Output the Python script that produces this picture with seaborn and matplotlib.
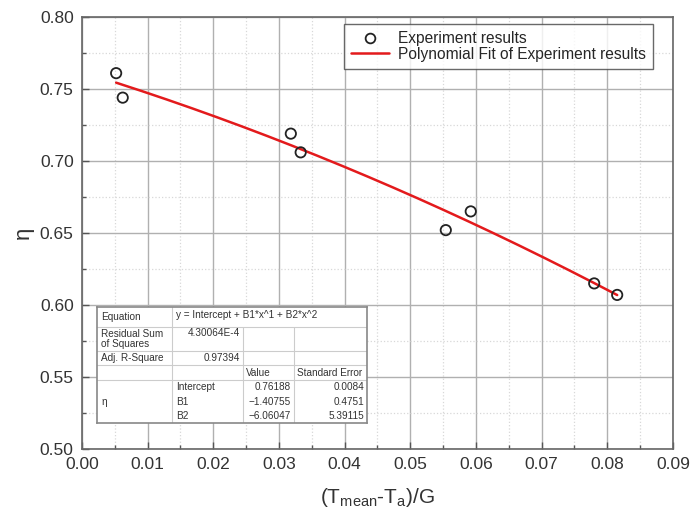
import numpy as np
import pandas as pd
import matplotlib
matplotlib.use("Agg")
import matplotlib.pyplot as plt
import seaborn as sns
from matplotlib.ticker import MultipleLocator, FormatStrFormatter
from matplotlib.lines import Line2D

sns.set_style("white")
plt.rcParams['font.family'] = ['Liberation Sans', 'DejaVu Sans']
plt.rcParams['mathtext.fontset'] = 'custom'
plt.rcParams['mathtext.rm'] = 'Liberation Sans'
plt.rcParams['mathtext.it'] = 'Liberation Sans'

# data
x_exp = [0.0052, 0.0062, 0.0318, 0.0333, 0.0554, 0.0592, 0.0780, 0.0815]
eta_exp = [0.761, 0.744, 0.719, 0.706, 0.652, 0.665, 0.615, 0.607]
coef_intercept = 0.76188
coef_b1 = -1.40755
coef_b2 = -6.06047

df = pd.DataFrame({"x": x_exp, "eta": eta_exp})
xf = np.linspace(min(x_exp), max(x_exp), 200)
fit_df = pd.DataFrame({"x": xf, "eta": coef_intercept + coef_b1 * xf + coef_b2 * xf ** 2})

fig = plt.figure(figsize=(6.92, 5.18), dpi=100)
ax = fig.add_axes([82/692, 1 - 449/518, (673-82)/692, (449-17)/518])

sns.lineplot(data=fit_df, x="x", y="eta", ax=ax, color="#e31a1c", lw=1.8, zorder=3)
sns.scatterplot(data=df, x="x", y="eta", ax=ax, marker="o", s=55, facecolor="none",
                edgecolor="#222222", linewidth=1.3, zorder=4)

ax.set_xlim(0, 0.09)
ax.set_ylim(0.50, 0.80)
ax.xaxis.set_major_locator(MultipleLocator(0.01))
ax.xaxis.set_minor_locator(MultipleLocator(0.005))
ax.yaxis.set_major_locator(MultipleLocator(0.05))
ax.yaxis.set_minor_locator(MultipleLocator(0.025))
ax.xaxis.set_major_formatter(FormatStrFormatter('%.2f'))
ax.yaxis.set_major_formatter(FormatStrFormatter('%.2f'))
ax.grid(which='major', color='#b0b0b0', lw=1.0, ls='-')
ax.grid(which='minor', color='#d8d8d8', lw=0.9, ls=':')
ax.set_axisbelow(True)
ax.tick_params(which='both', direction='in', colors='#555555', labelcolor='#333333',
               labelsize=12.5, bottom=True, left=True, top=False, right=False)
ax.tick_params(which='major', length=5, width=1, pad=6)
ax.tick_params(which='minor', length=3, width=1)
for sp in ax.spines.values():
    sp.set_color('#666666')
    sp.set_linewidth(1.2)

ax.set_xlabel(r'(T$_{\mathrm{mean}}$-T$_{\mathrm{a}}$)/G', fontsize=15, color='#333333', labelpad=10)
ax.set_ylabel('η', fontsize=16, color='#333333', labelpad=4)

handles = [Line2D([], [], marker='o', ls='none', markerfacecolor='none',
                  markeredgecolor='#222222', markersize=7, markeredgewidth=1.3),
           Line2D([], [], color='#e31a1c', lw=1.8)]
leg = ax.legend(handles, ['Experiment results', 'Polynomial Fit of Experiment results'],
                loc='upper right', bbox_to_anchor=(653/591 - 82/591, 1 - 7/432),
                fontsize=11.2, frameon=True, fancybox=False, handlelength=2.4,
                borderpad=0.45, labelspacing=0.05, handletextpad=0.6, borderaxespad=0)
leg.get_frame().set_edgecolor('#444444')
leg.get_frame().set_linewidth(1.0)

# fit summary table
tx0, ty0, tx1, ty1 = 97, 307, 367, 423
tab = fig.add_axes([tx0/692, 1 - ty1/518, (tx1-tx0)/692, (ty1-ty0)/518])
tab.set_xlim(tx0, tx1)
tab.set_ylim(ty1, ty0)
tab.set_facecolor('white')
for sp in tab.spines.values():
    sp.set_color('#888888')
    sp.set_linewidth(1.2)
tab.set_xticks([]); tab.set_yticks([])
lc = '#cccccc'
cols = [97, 172, 243, 294, 367]
rows = [307, 327, 351, 365, 380, 423]
for y in rows[1:-1]:
    tab.plot([tx0, tx1], [y, y], color=lc, lw=0.8)
tab.plot([172, 172], [307, 423], color=lc, lw=0.8)
tab.plot([243, 243], [327, 423], color=lc, lw=0.8)
tab.plot([294, 294], [327, 423], color=lc, lw=0.8)
fs = 7.2
tc = '#333333'
tab.text(101, 317, 'Equation', fontsize=fs, color=tc, va='center')
tab.text(176, 315, 'y = Intercept + B1*x^1 + B2*x^2', fontsize=fs, color=tc, va='center')
tab.text(101, 339, 'Residual Sum\nof Squares', fontsize=fs, color=tc, va='center', linespacing=1.0)
tab.text(240, 333, '4.30064E-4', fontsize=fs, color=tc, va='center', ha='right')
tab.text(101, 358, 'Adj. R-Square', fontsize=fs, color=tc, va='center')
tab.text(240, 358, '0.97394', fontsize=fs, color=tc, va='center', ha='right')
tab.text(246, 373, 'Value', fontsize=fs, color=tc, va='center')
tab.text(297, 373, 'Standard Error', fontsize=fs, color=tc, va='center')
tab.text(101, 402, 'η', fontsize=fs, color=tc, va='center')
names = ['Intercept', 'B1', 'B2']
vals = ['0.76188', '\u22121.40755', '\u22126.06047']
errs = ['0.0084', '0.4751', '5.39115']
for i, (n, v, e) in enumerate(zip(names, vals, errs)):
    yy = 387 + i * 14.5
    tab.text(176, yy, n, fontsize=fs, color=tc, va='center')
    tab.text(291, yy, v, fontsize=fs, color=tc, va='center', ha='right')
    tab.text(364, yy, e, fontsize=fs, color=tc, va='center', ha='right')

fig.savefig('out.png', dpi=100)
